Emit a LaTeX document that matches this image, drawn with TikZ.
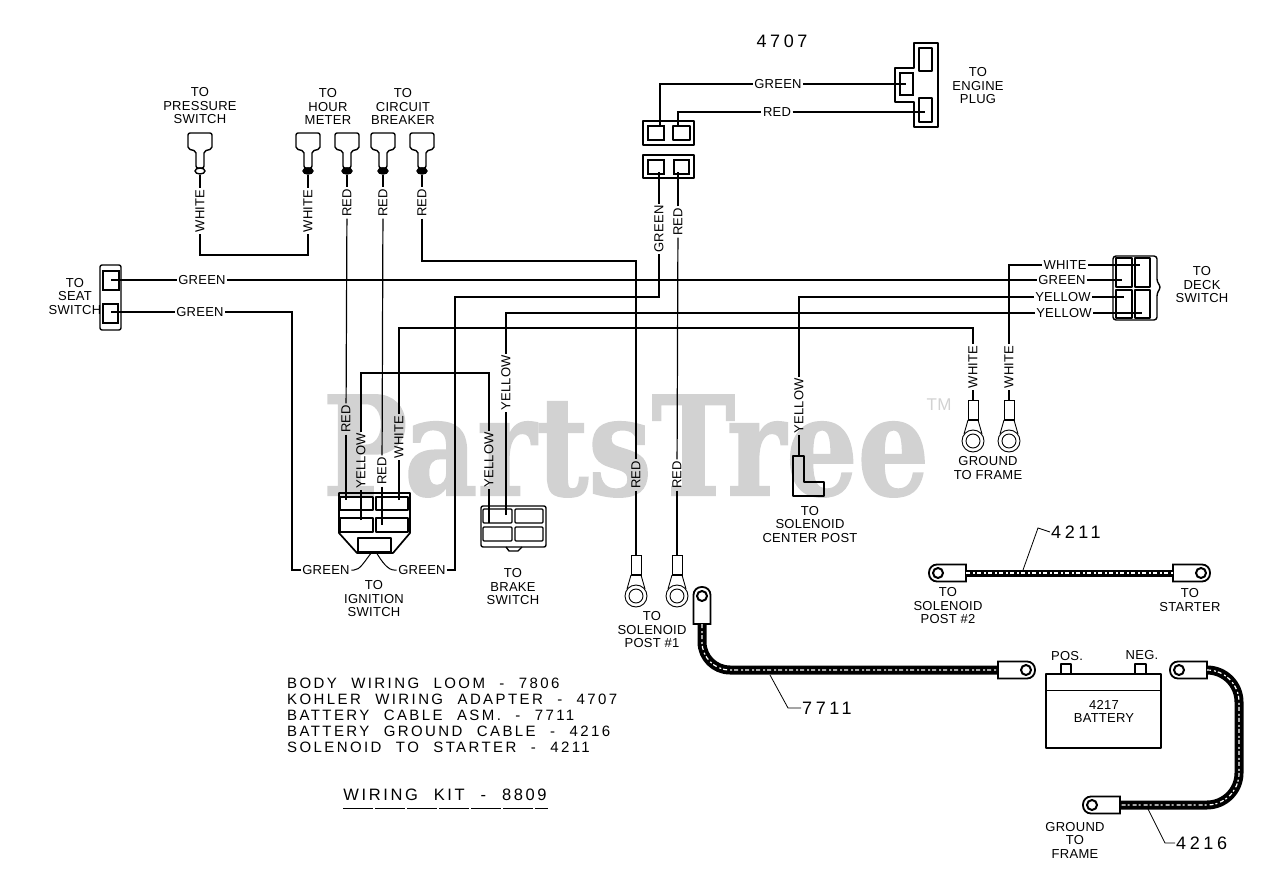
\documentclass[tikz,border=0pt]{standalone}
\usepackage{fontspec}
\setmainfont{Liberation Sans}[LetterSpace=2]
\newfontfamily\numfont{Liberation Sans}[LetterSpace=20]
\newfontfamily\listfont{Liberation Sans}[LetterSpace=16, WordSpace=2.2]
\newfontfamily\markfont{DejaVu Serif}[BoldFeatures={FakeBold=1.5}]
\usetikzlibrary{positioning}
\definecolor{markgray}{HTML}{D2D2D2}
\tikzset{%
   wire/.style={line width=1.2pt, black},
   part/.style={line width=1.4pt, black, line join=round},
   pin/.style={line width=1.1pt, black},
   thin part/.style={line width=.9pt, black},
   txt/.style={inner sep=1.5pt, align=center, font=\fontsize{13}{13.5}\selectfont},
   tag/.style={txt},
   vtag/.style={txt, rotate=90},
   num/.style={inner sep=1pt, font=\fontsize{18}{18}\numfont},
   block/.style={inner sep=0pt, align=left, font=\fontsize{15}{16.1}\listfont},
   cable/.style={line width=#1, black, line join=round,
      postaction={draw=white, line width=1.2pt, dash pattern=on 4pt off 3pt on 2pt off 2pt}},
   cable/.default=9pt,
   lead/.style={line width=.8pt, black},
}
% spade plug, wire leaves at coordinate #2
\newcommand\plugat[3][black]{%
  \draw[part, rounded corners=2pt] (#3-12,133) -- (#3+12,133) -- (#3+12,149) -- (#3+4,151) -- (#3+4,168) -- (#3-4,168) -- (#3-4,151) -- (#3-12,149) -- cycle;
  \draw[part, fill=#1] (#3,171) ellipse (5pt and 3pt);
  \coordinate (#2) at (#3,175);
}
% ring terminal, wire arrives at coordinate #1
\newcommand\ringat[3]{%
  \draw[thin part] (#2-5,#3) rectangle (#2+5,#3+20);
  \draw[part] (#2-5,#3+20) -- (#2+5,#3+20);
  \draw[thin part] (#2-5,#3+20) -- (#2-9,#3+34) (#2+5,#3+20) -- (#2+9,#3+34);
  \draw[thin part] (#2,#3+41) circle (11pt) circle (7pt);
  \coordinate (#1) at (#2,#3);
}
% cable eye, hole at (#2,#3), body turned by #4, cable leaves at #1
\newcommand\eyeat[4]{%
  \begin{scope}[shift={(#2,#3)}, rotate=#4]
    \draw[line width=1.8pt, fill=white] (28,-8.5) [rounded corners=8pt] -- (-9,-8.5) -- (-9,8.5) [sharp corners] -- (28,8.5) -- cycle;
    \draw[line width=2pt] (0,0) circle (5pt);
    \coordinate (#1) at (28,0);
  \end{scope}
}

\begin{document}
\begin{tikzpicture}[x=1pt, y=-1pt]
   \useasboundingbox (0,0) rectangle (1280,896);
   % watermark
   \node[transform shape, xscale=.82, text=markgray, inner sep=0pt, anchor=base, font=\fontsize{137}{137}\markfont\bfseries] (mark) at (626,495) {PartsTree};
   \node[text=markgray, inner sep=0pt, font=\fontsize{17}{17}\selectfont] (tm) at (939,405) {TM};

   % top plugs
   \plugat[white]{pressA}{200}
   \plugat{hourA}{308}
   \plugat{hourB}{347}
   \plugat{breakA}{383}
   \plugat{breakB}{422}
   \node[txt] (toPress) at (200,106) {TO\\PRESSURE\\SWITCH};
   \node[txt] (toHour) at (328,106.5) {TO\\HOUR\\METER};
   \node[txt] (toBreak) at (403,106.5) {TO\\CIRCUIT\\BREAKER};

   % seat switch
   \draw[part, rounded corners=2pt] (100,265) rectangle (121,330);
   \draw[pin] (103,271) rectangle (119,290);
   \draw[pin] (103,304) rectangle (118,323);
   \coordinate (seatA) at (111,280);
   \coordinate (seatB) at (111,312);
   \node[txt] (toSeat) at (75,296.5) {TO\\SEAT\\SWITCH};

   % ignition switch
   \draw[part, line width=1.7pt] (339,533) -- (339,493) -- (410,493) -- (410,533) -- (393,553) -- (357,553) -- cycle;
   \draw[part] (340,497) rectangle (373,510);
   \draw[part] (376,497) rectangle (408,510);
   \draw[part] (340,518) rectangle (373,532);
   \draw[part] (376,518) rectangle (408,532);
   \draw[part] (358,538) rectangle (391,552);
   \coordinate (ignRed) at (346,500);
   \coordinate (ignYel) at (361,520);
   \coordinate (ignRedB) at (382,525);
   \coordinate (ignWhi) at (399,500);
   \coordinate (ignGrA) at (372,552);
   \coordinate (ignGrB) at (376,552);
   \node[txt] (toIgn) at (374,599) {TO\\IGNITION\\SWITCH};

   % brake switch
   \draw[part, rounded corners=2pt] (481,506) rectangle (546,547);
   \draw[part] (506,547) -- (509,551) -- (518,551) -- (522,547);
   \draw[part, rounded corners=1pt] (483,509) rectangle (512,523);
   \draw[part, rounded corners=1pt] (515,509) rectangle (543,523);
   \draw[part, rounded corners=1pt] (483,527) rectangle (512,541);
   \draw[part, rounded corners=1pt] (515,527) rectangle (543,541);
   \coordinate (brkA) at (489,523);
   \coordinate (brkB) at (506,515);
   \node[txt] (toBrk) at (513,587) {TO\\BRAKE\\SWITCH};

   % adapter 4707
   \node[num] (n4707) at (782,41) {4707};
   \draw[part] (914,43) -- (938,43) -- (938,127) -- (914,127) -- (914,102) -- (895,102) -- (895,68) -- (914,68) -- cycle;
   \draw[part] (919,48) rectangle (932,71);
   \draw[pin] (900,73) rectangle (913,95);
   \draw[part] (919,98) rectangle (932,122);
   \coordinate (engG) at (906,84);
   \coordinate (engR) at (925,112);
   \node[txt] (toEng) at (978,86) {TO\\ENGINE\\PLUG};
   \draw[part] (643,121) rectangle (694,145);
   \draw[pin] (648,126) rectangle (664,140);
   \draw[part] (673,126) rectangle (690,140);
   \draw[part] (643,155) rectangle (694,178);
   \draw[pin] (648,160) rectangle (664,174);
   \draw[pin] (674,160) rectangle (689,174);
   \coordinate (upG) at (660,127);
   \coordinate (upR) at (678,127);
   \coordinate (loG) at (659,172);
   \coordinate (loR) at (678,172);

   % deck switch
   \draw[part, rounded corners=3pt] (1113,256) -- (1157,256) -- (1157,282) -- (1161,287) -- (1157,293) -- (1157,320) -- (1113,320) -- cycle;
   \draw[part] (1116,258) rectangle (1132,287);
   \draw[part] (1135,258) rectangle (1150,287);
   \draw[part] (1116,290) rectangle (1132,318);
   \draw[part] (1135,290) rectangle (1150,318);
   \coordinate (dkW) at (1140,265);
   \coordinate (dkG) at (1122,280);
   \coordinate (dkYa) at (1124,297);
   \coordinate (dkYb) at (1142,313);
   \node[txt] (toDeck) at (1202,285) {TO\\DECK\\SWITCH};

   % solenoid centre post
   \draw[part] (793,456) -- (804,456) -- (804,482) -- (824,482) -- (824,496) -- (793,496) -- cycle;
   \coordinate (solC) at (799,456);
   \node[txt] (toCen) at (810,524.5) {TO\\SOLENOID\\CENTER POST};

   % ring terminals
   \ringat{ringRa}{636}{555}
   \ringat{ringRb}{677}{555}
   \ringat{ringWa}{973}{400}
   \ringat{ringWb}{1009}{400}
   \node[txt] (gndTxt) at (988,468) {GROUND\\TO FRAME};
   \node[txt] (toSolA) at (652,630) {TO\\SOLENOID\\POST \#1};

   % wire labels
   \node[vtag] (wA) at (200,211) {WHITE};
   \node[vtag] (wB) at (308,211) {WHITE};
   \node[vtag] (rA) at (347,203) {RED};
   \node[vtag] (rB) at (383,203) {RED};
   \node[vtag] (rC) at (422,203) {RED};
   \node[tag] (gSeatA) at (202,280) {GREEN};
   \node[tag] (gSeatB) at (200,312) {GREEN};
   \node[tag] (gDeck) at (1062,280) {GREEN};
   \node[tag] (wDeck) at (1065,265) {WHITE};
   \node[tag] (yDeckA) at (1063,297) {YELLOW};
   \node[tag] (yDeckB) at (1064,313) {YELLOW};
   \node[vtag] (rIgnA) at (346,419) {RED};
   \node[vtag] (yIgn) at (361,461) {YELLOW};
   \node[vtag] (rIgnB) at (382,471) {RED};
   \node[vtag] (wIgn) at (399,437) {WHITE};
   \node[tag] (gIgnA) at (326,570) {GREEN};
   \node[tag] (gIgnB) at (422,570) {GREEN};
   \node[vtag] (yBrkA) at (489,460) {YELLOW};
   \node[vtag] (yBrkB) at (506,383) {YELLOW};
   \node[tag] (gEng) at (778,84) {GREEN};
   \node[tag] (rEng) at (777,112) {RED};
   \node[vtag] (gAd) at (659,229) {GREEN};
   \node[vtag] (rAd) at (678,222) {RED};
   \node[vtag] (rSolA) at (636,475) {RED};
   \node[vtag] (rSolB) at (677,475) {RED};
   \node[vtag] (ySol) at (799,406) {YELLOW};
   \node[vtag] (wGndA) at (973,367) {WHITE};
   \node[vtag] (wGndB) at (1009,367) {WHITE};

   % wires
   \draw[wire] (pressA) -- (wA);
   \draw[wire] (hourA) -- (wB);
   \draw[wire] (wA) -- (200,255) -- (308,255) -- (wB);
   \draw[wire] (hourB) -- (rA);
   \draw[wire] (breakA) -- (rB);
   \draw[wire] (breakB) -- (rC);
   \draw[wire] (rA) -- (rIgnA);
   \draw[wire] (rIgnA) -- (ignRed);
   \draw[wire] (rB) -- (rIgnB);
   \draw[wire] (rIgnB) -- (ignRedB);
   \draw[wire] (rC) -- (422,261) -- (636,261) -- (rSolA);
   \draw[wire] (rSolA) -- (ringRa);
   \draw[wire] (seatA) -- (gSeatA);
   \draw[wire] (gSeatA) -- (gDeck);
   \draw[wire] (gDeck) -- (dkG);
   \draw[wire] (seatB) -- (gSeatB);
   \draw[wire] (gSeatB) -- (292,312) -- (292,570) -- (gIgnA);
   \draw[wire, line width=1pt] (gIgnA) -- (354,570) .. controls (360,570) and (364,562) .. (ignGrA);
   \draw[wire, line width=1pt] (gIgnB) -- (394,570) .. controls (388,570) and (382,562) .. (ignGrB);
   \draw[wire] (gIgnB) -- (455,570) -- (455,297) -- (659,297) -- (gAd);
   \draw[wire] (gAd) -- (loG);
   \draw[wire] (rAd) -- (loR);
   \draw[wire] (rAd) -- (rSolB);
   \draw[wire] (rSolB) -- (ringRb);
   \draw[wire] (upG) -- (660,84) -- (gEng);
   \draw[wire] (gEng) -- (engG);
   \draw[wire] (upR) -- (678,112) -- (rEng);
   \draw[wire] (rEng) -- (engR);
   \draw[wire] (ignYel) -- (yIgn);
   \draw[wire] (yIgn) -- (361,373) -- (489,373) -- (yBrkA);
   \draw[wire] (yBrkA) -- (brkA);
   \draw[wire] (brkB) -- (yBrkB);
   \draw[wire] (yBrkB) -- (506,313) -- (yDeckB);
   \draw[wire] (yDeckB) -- (dkYb);
   \draw[wire] (ignWhi) -- (wIgn);
   \draw[wire] (wIgn) -- (399,328) -- (973,328) -- (wGndA);
   \draw[wire] (wGndA) -- (ringWa);
   \draw[wire] (wGndB) -- (ringWb);
   \draw[wire] (wGndB) -- (1009,265) -- (wDeck);
   \draw[wire] (wDeck) -- (dkW);
   \draw[wire] (solC) -- (ySol);
   \draw[wire] (ySol) -- (799,297) -- (yDeckA);
   \draw[wire] (yDeckA) -- (dkYa);

   % cable 4211
   \eyeat{solEye}{938}{573}{0}
   \eyeat{startEye}{1201}{573}{180}
   \draw[cable=7pt] (solEye) -- (startEye);
   \node[num, anchor=west] (n4211) at (1050,532) {4211};
   \coordinate (lead4211) at (1023,570);
   \draw[lead] (n4211.west) -- (1038,528) -- (lead4211);
   \node[txt] (toSolB) at (948,606) {TO\\SOLENOID\\POST \#2};
   \node[txt] (toStart) at (1190,600) {TO\\STARTER};

   % cable 7711
   \eyeat{batEyeA}{702}{596}{-90}
   \eyeat{batEyeB}{1026}{670}{180}
   \draw[cable, rounded corners=28pt] (batEyeA) -- (702,670) -- (batEyeB);
   \node[num, anchor=west] (n7711) at (801,708) {7711};
   \coordinate (lead7711) at (770,675);
   \draw[lead] (n7711.west) -- (788,708) -- (lead7711);

   % battery
   \draw[part] (1046,674) rectangle (1161,748);
   \draw[part, line width=1pt] (1046,690) -- (1161,690);
   \draw[part] (1061,674) -- (1061,664) -- (1071,664) -- (1071,674);
   \draw[part] (1135,674) -- (1135,664) -- (1146,664) -- (1146,674);
   \node[txt] (posTxt) at (1067,656) {POS.};
   \node[txt] (negTxt) at (1142,655) {NEG.};
   \node[txt] (batTxt) at (1104,711.5) {4217\\BATTERY};

   % cable 4216
   \eyeat{gndEyeA}{1179}{670}{0}
   \eyeat{gndEyeB}{1092}{805}{0}
   \draw[cable, rounded corners=32pt] (gndEyeA) -- (1239,670) -- (1239,805) -- (gndEyeB);
   \node[num, anchor=west] (n4216) at (1175,843) {4216};
   \coordinate (lead4216) at (1148,809);
   \draw[lead] (n4216.west) -- (1165,843) -- (lead4216);
   \node[txt] (gndFrame) at (1075,840) {GROUND\\TO\\FRAME};

   % parts list
   \node[block, anchor=west] (loom) at (287,715.5) {BODY WIRING LOOM - 7806\\KOHLER WIRING ADAPTER - 4707\\BATTERY CABLE ASM. - 7711\\BATTERY GROUND CABLE - 4216\\SOLENOID TO STARTER - 4211};
   \node[block, font=\fontsize{16.5}{17}\listfont] (kit) at (445,795) {WIRING KIT - 8809};
   \coordinate (kitL) at (343,808);
   \coordinate (kitR) at (548,808);
   \draw[line width=.8pt, dash pattern=on 30pt off 2pt] (kitL) -- (kitR);
\end{tikzpicture}
\end{document}
